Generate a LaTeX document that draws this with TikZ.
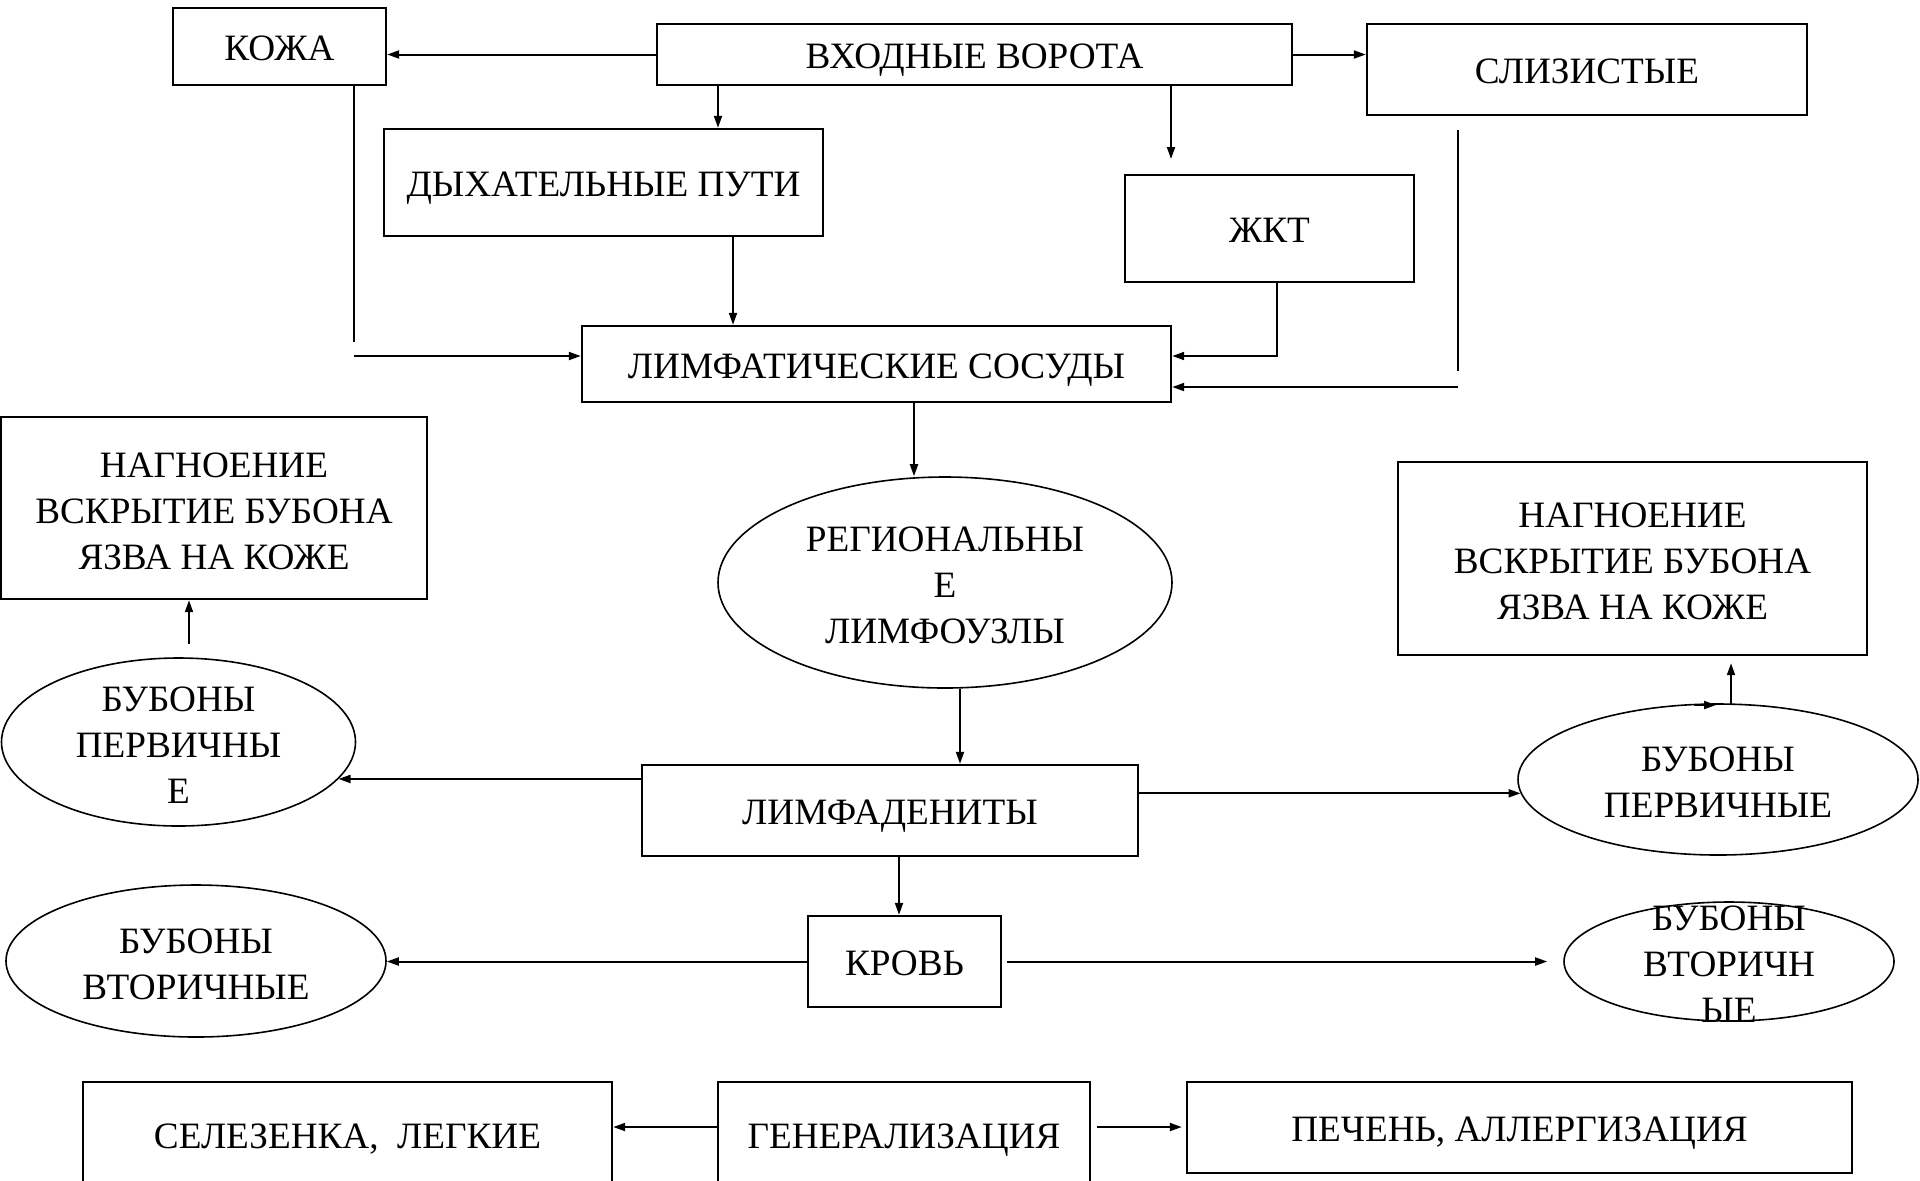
\documentclass[tikz,border=0pt]{standalone}
\usepackage{fontspec}
\setmainfont{Liberation Serif}
\usetikzlibrary{arrows.meta,shapes.geometric}
\begin{document}
\begin{tikzpicture}[x=0.5pt,y=-0.5pt,
  font=\fontsize{18.6}{23}\selectfont,
  box/.style={draw,line width=1.2pt,inner sep=0pt,align=center},
  one/.style={text height=12.3pt,text depth=0pt},
  lower/.style={yshift=-1pt},
  multi/.style={yshift=-1.5pt},
  oval/.style={draw,ellipse,line width=0.8pt,inner sep=0pt},
  txt/.style={align=center,inner sep=0pt},
  arr/.style={line width=1pt,-{Triangle[length=6pt,width=4pt]}},
  ln/.style={line width=1pt}]
\useasboundingbox (0,0) rectangle (1920,1180);

% rectangular boxes (frame) with their labels
\node[box,minimum width=106.5pt,minimum height=38.5pt] (koza)   at (279.5,46.5)  {};
\node[txt,one,lower] (kozaT) at (koza) {КОЖА};
\node[box,minimum width=317.5pt,minimum height=30.5pt] (vhod)   at (974.5,54.5)  {};
\node[txt,one,lower] (vhodT) at (vhod) {ВХОДНЫЕ ВОРОТА};
\node[box,minimum width=220pt,minimum height=45.5pt]   (sliz)   at (1587,69.5)   {};
\node[txt,one,lower] (slizT) at (sliz) {СЛИЗИСТЫЕ};
\node[box,minimum width=219.5pt,minimum height=53.5pt] (dyh)    at (603.5,182.5) {};
\node[txt,one,lower] (dyhT) at (dyh) {ДЫХАТЕЛЬНЫЕ ПУТИ};
\node[box,minimum width=144.5pt,minimum height=53.5pt] (zkt)    at (1269.5,228.5) {};
\node[txt,one,lower] (zktT) at (zkt) {ЖКТ};
\node[box,minimum width=294.5pt,minimum height=38pt]   (lsos)   at (876.5,364)   {};
\node[txt,one,lower] (lsosT) at (lsos) {ЛИМФАТИЧЕСКИЕ СОСУДЫ};
\node[box,minimum width=213pt,minimum height=91pt]     (nagL)   at (214,508)     {};
\node[txt,multi] (nagLT) at (nagL) {НАГНОЕНИЕ\\ВСКРЫТИЕ БУБОНА\\ЯЗВА НА КОЖЕ};
\node[box,minimum width=234.5pt,minimum height=96.5pt] (nagR)   at (1632.5,558.5) {};
\node[txt,multi] (nagRT) at (nagR) {НАГНОЕНИЕ\\ВСКРЫТИЕ БУБОНА\\ЯЗВА НА КОЖЕ};
\node[box,minimum width=248pt,minimum height=45.5pt]   (lymphad) at (890,810.5)  {};
\node[txt,one,lower] (lymphadT) at (lymphad) {ЛИМФАДЕНИТЫ};
\node[box,minimum width=96.5pt,minimum height=45.5pt]  (krov)   at (904.5,961.5) {};
\node[txt,one,lower] (krovT) at (krov) {КРОВЬ};
\node[box,minimum width=264.5pt,minimum height=54pt]   (selez)  at (347.5,1136)  {};
\node[txt,one] (selezT) at (347.5,1136) {СЕЛЕЗЕНКА, \ ЛЕГКИЕ};
\node[box,minimum width=186pt,minimum height=54pt]     (gener)  at (904,1136)    {};
\node[txt,one] (generT) at (904,1136) {ГЕНЕРАЛИЗАЦИЯ};
\node[box,minimum width=332.5pt,minimum height=45.5pt] (pechen) at (1519.5,1127.5) {};
\node[txt,one,lower] (pechenT) at (pechen) {ПЕЧЕНЬ, АЛЛЕРГИЗАЦИЯ};

% oval nodes, with their labels set on top
\node[oval,minimum width=227pt,minimum height=105.5pt] (reg)   at (945,582.5) {};
\node[txt,multi] (regT) at (reg) {РЕГИОНАЛЬНЫ\\Е\\ЛИМФОУЗЛЫ};
\node[oval,minimum width=177pt,minimum height=84pt]    (bubL1) at (178.5,742) {};
\node[txt,multi] (bubL1T) at (bubL1) {БУБОНЫ\\ПЕРВИЧНЫ\\Е};
\node[oval,minimum width=200pt,minimum height=75.5pt]  (bubR1) at (1718,779.5) {};
\node[txt,multi] (bubR1T) at (bubR1) {БУБОНЫ\\ПЕРВИЧНЫЕ};
\node[oval,minimum width=190pt,minimum height=76pt]    (bubL2) at (196,961) {};
\node[txt,multi] (bubL2T) at (bubL2) {БУБОНЫ\\ВТОРИЧНЫЕ};
\node[oval,minimum width=165pt,minimum height=59.5pt]  (bubR2) at (1729,961.5) {};
\node[txt,multi] (bubR2T) at (bubR2) {БУБОНЫ\\ВТОРИЧН\\ЫЕ};

% helper points for the connectors
\coordinate (xa) at (718,0);
\coordinate (xb) at (733,0);
\coordinate (xd) at (914,0);
\coordinate (xe) at (960,0);
\coordinate (xf) at (899,0);
\coordinate (yg) at (0,1127);
\coordinate (zktEnd) at (1171,159);
\coordinate (kozaEnd) at (354,342);
\coordinate (kozaIn) at (354,356);
\coordinate (zktIn) at (1277,356);
\coordinate (slizTop) at (1458,130);
\coordinate (slizBot) at (1458,371);
\coordinate (slizIn) at (1458,387);
\coordinate (rUp) at (1731,704);
\coordinate (lUp) at (189,644);
\coordinate (tinyA) at (1694,705);
\coordinate (tinyB) at (1716,705);

% entry gate branches
\draw[arr] (vhod.west) -- (vhod.west -| koza.east);
\draw[arr] (vhod.east) -- (vhod.east -| sliz.west);
\draw[arr] (vhod.south -| xa) -- (dyh.north -| xa);
\draw[arr] (vhod.south -| zktEnd) -- (zktEnd);

% into the lymphatic vessels
\draw[ln]  (koza.south -| kozaEnd) -- (kozaEnd);
\draw[arr] (kozaIn) -- (kozaIn -| lsos.west);
\draw[arr] (dyh.south -| xb) -- (lsos.north -| xb);
\draw[arr] (zkt.south -| zktIn) |- (zktIn -| lsos.east);
\draw[ln]  (slizTop) -- (slizBot);
\draw[arr] (slizIn) -- (slizIn -| lsos.east);

% lymph nodes and lymphadenitis
\draw[arr] (lsos.south -| xd) -- (reg.north -| xd);
\draw[arr] (reg.south -| xe) -- (lymphad.north -| xe);
\draw[arr] (lymphad.west |- bubL1.-13.5) -- (bubL1.-13.5);
\draw[arr] (lymphad.east |- bubR1.184.8) -- (bubR1.184.8);
\draw[arr] (lUp) -- (lUp |- nagL.south);
\draw[arr,shorten >=3.5pt] (rUp) -- (rUp |- nagR.south);
\draw[arr] (tinyA) -- (tinyB);

% blood and generalisation
\draw[arr] (lymphad.south -| xf) -- (krov.north -| xf);
\draw[arr] (krov.west) -- (krov.west -| bubL2.east);
\draw[arr,shorten <=2.5pt,shorten >=8pt] (krov.east) -- (krov.east -| bubR2.west);
\draw[arr] (gener.west |- yg) -- (selez.east |- yg);
\draw[arr,shorten <=3pt,shorten >=2pt] (gener.east |- yg) -- (pechen.west |- yg);
\end{tikzpicture}
\end{document}
